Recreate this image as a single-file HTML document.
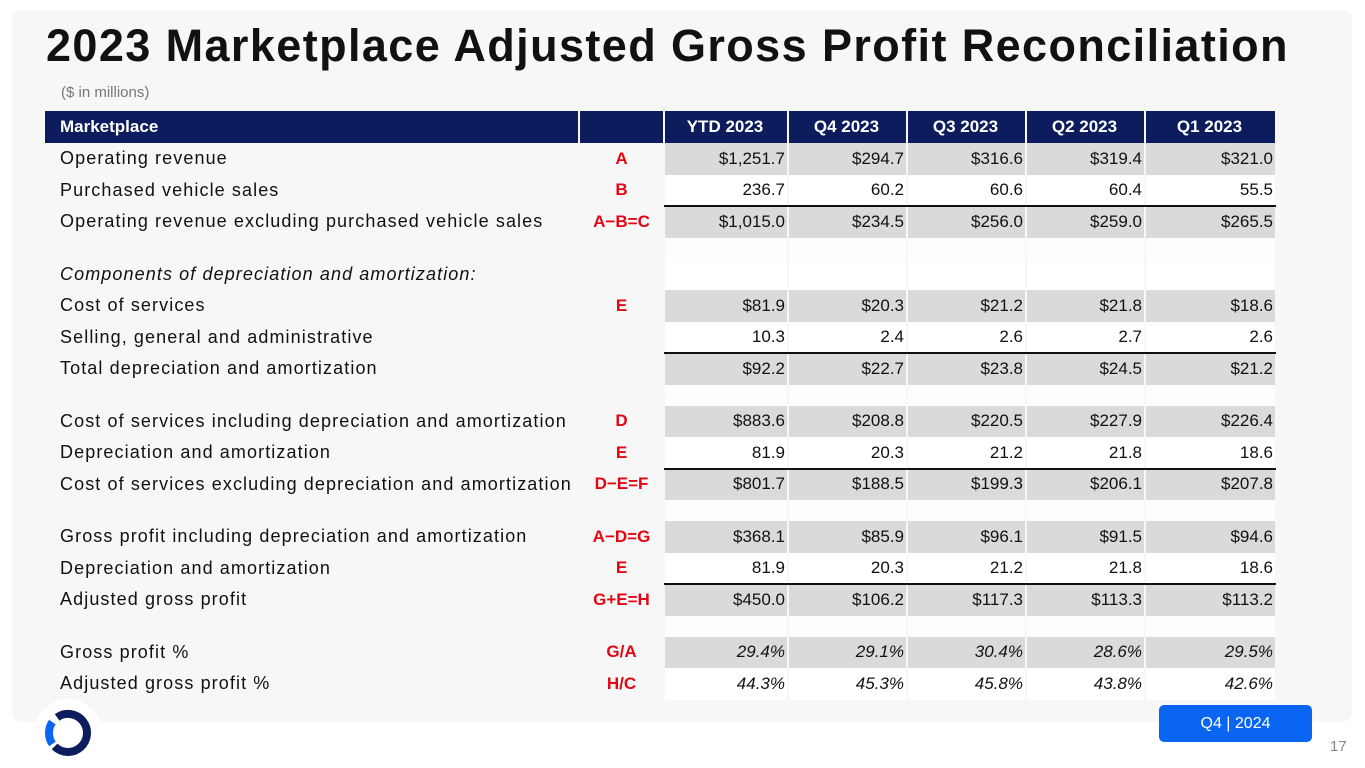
<!DOCTYPE html>
<html><head><meta charset="utf-8">
<style>
body{margin:0;width:1365px;height:768px;background:#fff;font-family:"Liberation Sans",sans-serif;position:relative;overflow:hidden}
#panel{position:absolute;left:12px;top:10px;width:1340px;height:712px;background:#f7f7f7;border-radius:10px}
#title{position:absolute;left:46px;top:20px;font-size:45px;font-weight:bold;color:#111;letter-spacing:1.4px;white-space:nowrap}
#sub{position:absolute;left:61px;top:84px;font-size:15px;color:#777}
.c{position:absolute;box-sizing:border-box;font-size:17px;color:#111;white-space:nowrap;display:flex;align-items:center}
.lab{letter-spacing:1.1px;font-size:18px}
.hd{background:#0c1c5c;color:#fff;font-weight:bold;font-size:17px}
.num{justify-content:flex-end;padding-right:2px}
.code{justify-content:center;color:#e30613;font-weight:bold}
.line{position:absolute;height:2px;background:#111}
#badge{position:absolute;left:1159px;top:705px;width:153px;height:37px;background:#0a66f2;color:#fff;border-radius:5px;font-size:16px;display:flex;align-items:center;justify-content:center}
#pg{position:absolute;left:1330px;top:738px;font-size:15px;color:#888}
</style></head><body>
<div id="panel"></div>
<div id="title">2023 Marketplace Adjusted Gross Profit Reconciliation</div>
<div id="sub">($ in millions)</div>
<div id="tbl"></div>
<svg style="position:absolute;left:32px;top:699px" width="72" height="68">
<circle cx="36" cy="34" r="34" fill="#fff"/>
<path d="M 20.4 23.1 A 19 19 0 0 0 20.4 44.9" fill="none" stroke="#0a66f2" stroke-width="8"/>
<path d="M 22.6 47.4 A 19 19 0 1 0 25.1 18.4" fill="none" stroke="#0c1c5c" stroke-width="8"/>
</svg>
<div id="badge">Q4 | 2024</div>
<div id="pg">17</div>
<script>
const columns=["YTD 2023","Q4 2023","Q3 2023","Q2 2023","Q1 2023"];
const labels=["Operating revenue","Purchased vehicle sales","Operating revenue excluding purchased vehicle sales",null,"Components of depreciation and amortization:","Cost of services","Selling, general and administrative","Total depreciation and amortization",null,"Cost of services including depreciation and amortization","Depreciation and amortization","Cost of services excluding depreciation and amortization",null,"Gross profit including depreciation and amortization","Depreciation and amortization","Adjusted gross profit",null,"Gross profit %","Adjusted gross profit %"];
const codes=["A","B","A\u2212B=C","","","E","","","","D","E","D\u2212E=F","","A\u2212D=G","E","G+E=H","","G/A","H/C"];
const values=[
["$1,251.7","$294.7","$316.6","$319.4","$321.0"],
["236.7","60.2","60.6","60.4","55.5"],
["$1,015.0","$234.5","$256.0","$259.0","$265.5"],
null,
["","","","",""],
["$81.9","$20.3","$21.2","$21.8","$18.6"],
["10.3","2.4","2.6","2.7","2.6"],
["$92.2","$22.7","$23.8","$24.5","$21.2"],
null,
["$883.6","$208.8","$220.5","$227.9","$226.4"],
["81.9","20.3","21.2","21.8","18.6"],
["$801.7","$188.5","$199.3","$206.1","$207.8"],
null,
["$368.1","$85.9","$96.1","$91.5","$94.6"],
["81.9","20.3","21.2","21.8","18.6"],
["$450.0","$106.2","$117.3","$113.3","$113.2"],
null,
["29.4%","29.1%","30.4%","28.6%","29.5%"],
["44.3%","45.3%","45.8%","43.8%","42.6%"]];
const shaded=[1,0,1,0,0,1,0,1,0,1,0,1,0,1,0,1,0,1,0];
const ruled=[0,0,1,0,0,0,0,1,0,0,0,1,0,0,0,1,0,0,0];
const italic=[0,0,0,0,1,0,0,0,0,0,0,0,0,0,0,0,0,1,1];
const tbl=document.getElementById('tbl');
const colX=[664,788,907,1026,1145,1276];
function cell(x,y,w,h,cls,txt){const d=document.createElement('div');d.className='c '+cls;d.style.left=x+'px';d.style.top=y+'px';d.style.width=w+'px';d.style.height=h+'px';d.textContent=txt;tbl.appendChild(d);return d;}
let h1=cell(45,111,533,32,'hd','Marketplace');h1.style.paddingLeft='15px';


let h2=cell(580,111,83,32,'hd','');


columns.forEach((c,i)=>{const d=cell(colX[i]+1,111,colX[i+1]-colX[i]-2,32,'hd num',c);d.style.justifyContent='center';

});
let y=143;
labels.forEach((lab,r)=>{
 if(lab===null){
  for(let i=0;i<5;i++){const b=cell(colX[i]+1,y,colX[i+1]-colX[i]-2,21,'','');b.style.background='#fdfdfd';
  
  }
  y+=21;return;}
 const h=31.5;
 const l=cell(60,y,530,h,'lab',lab);if(italic[r]&&r===4)l.style.fontStyle='italic';
 
 
 const k=cell(580,y,83,h,'code',codes[r]);
 
 
 values[r].forEach((v,i)=>{const d=cell(colX[i]+1,y,colX[i+1]-colX[i]-2,h,'num',v);
  d.style.background=shaded[r]?'#dadada':'#fff';
  if(italic[r]&&r!==4)d.style.fontStyle='italic';
  
  });
 if(ruled[r]){const ln=document.createElement('div');ln.className='line';ln.style.left='664px';ln.style.width='612px';ln.style.top=(y-1)+'px';tbl.appendChild(ln);
  
  }
 y+=h;
});
</script>
</body></html>
